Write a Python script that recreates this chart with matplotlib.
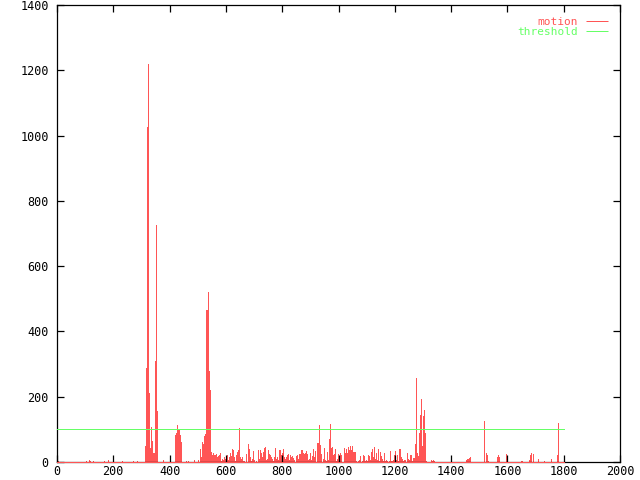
import numpy as np
import matplotlib
matplotlib.use("Agg")
from matplotlib import pyplot as plt

# motion score per sample (about 3.5 frames each)
motion_a = ([8, 4] + [0] * 27 + [4, 0, 0, 6, 4, 0, 0, 4] + [0] * 10 + [4, 0, 0, 0, 6] + [0] * 13
            + [3] + [0] * 10 + [4, 0, 0, 0, 4] + [0] * 7
            + [50, 289, 1027, 1219, 212, 43, 108, 65, 28, 28, 310, 726, 157]
            + [0] * 5 + [6] + [0] * 11 + [83, 90, 113, 98, 98, 83, 62] + [0] * 4
            + [3, 0, 3] + [0] * 5 + [6, 0, 0, 0, 6, 0]
            + [40, 15, 60, 55, 80, 85, 466, 466, 522, 280, 220, 30, 20, 28, 22])
motion_b = [20, 24, 16, 18, 21, 28, 4, 10, 6, 14,
            8, 6, 21, 6, 14, 27, 18, 39, 37, 16,
            3, 21, 32, 37, 104, 16, 10, 14, 4, 2,
            0, 24, 0, 55, 39, 14, 4, 8, 34, 6,
            0, 3, 0, 37, 10, 37, 27, 14, 32, 42,
            45, 6, 8, 37, 24, 20, 16, 10, 4, 14,
            42, 10, 16, 6, 37, 37, 21, 27, 39, 16,
            8, 16, 21, 24, 6, 20, 14, 19, 13, 6,
            0, 18, 20, 10, 24, 24, 37, 37, 27, 24,
            28, 35, 24, 6, 10, 28, 6, 18, 39, 14,
            35, 0, 59, 57, 113, 52, 24, 0, 8, 42]
motion_c = [6, 3, 32, 6, 69, 116, 42, 45, 21, 24,
            40, 4, 8, 24, 16, 28, 21, 0, 0, 43,
            27, 39, 27, 47, 37, 49, 37, 49, 32, 32,
            32, 4, 0, 4, 6, 18, 0, 2, 21, 18,
            4, 6, 2, 21, 18, 6, 32, 40, 16, 47,
            10, 27, 6, 39, 4, 31, 18, 8, 4, 28,
            2, 6, 4, 0, 2, 35, 2, 4, 6, 20,
            35, 6, 20, 2, 40, 40, 16, 8, 4, 5,
            5, 0, 27, 10, 6, 21, 21, 2, 11, 12,
            55, 257, 27, 17, 90, 144, 193, 50, 140, 159,
            90, 4]
motion_d = ([0] * 4 + [6, 4, 6, 4] + [0] * 16 + [4] + [0] * 14 + [6, 10, 8, 12, 14] + [0] * 13
            + [126, 0, 28, 22, 4] + [0] * 8 + [14, 22, 14] + [0] * 6 + [24] + [0] * 14
            + [4, 4] + [0] * 6 + [6, 20, 28, 0, 24] + [0] * 4 + [8] + [0] * 5 + [4] + [0] * 6
            + [10] + [0] * 5 + [21, 120] + [0] * 5)

motion = np.array(motion_a + motion_b + motion_c + motion_d, dtype=float)
frames = np.linspace(0, 1800, len(motion))
threshold = 100

red = '#ff5555'
green = '#66ff66'
mono = 'DejaVu Sans Mono'
px = 0.72  # one pixel in points at 100 dpi

fig = plt.figure(figsize=(6.4, 4.8), dpi=100)
ax = fig.add_axes([57 / 640, 18 / 480, 563 / 640, 457 / 480])

# impulses for the motion score, plus the zero line of the series
ax.bar(frames, motion, width=frames[1] - frames[0], color=red, linewidth=0, antialiased=False)
ax.hlines(0, frames[0], frames[-1], color=red, linewidth=px, label='motion', zorder=4,
          clip_on=False, antialiased=False)
ax.hlines(threshold, frames[0], frames[-1], color=green, linewidth=px, label='threshold', zorder=3,
          antialiased=False)

ax.set_xlim(0, 2000)
ax.set_ylim(0, 1400)
ax.set_xticks(np.arange(0, 2001, 200))
ax.set_yticks(np.arange(0, 1401, 200))
ax.tick_params(direction='in', top=True, right=True, length=5, width=0.9, labelsize=8.5)
ax.tick_params(axis='x', pad=2)
ax.tick_params(axis='y', pad=6)
for lab in ax.get_xticklabels() + ax.get_yticklabels():
    lab.set_family(mono)
for sp in ax.spines.values():
    sp.set_linewidth(0.9)

leg = ax.legend(loc='upper right', frameon=False, markerfirst=False,
                handlelength=2.0, handletextpad=0.7, labelspacing=0.0, borderaxespad=0.7,
                borderpad=0.4, prop={'family': mono, 'size': 8})
for txt, col in zip(leg.get_texts(), [red, green]):
    txt.set_color(col)

fig.savefig('out.png', dpi=100)
